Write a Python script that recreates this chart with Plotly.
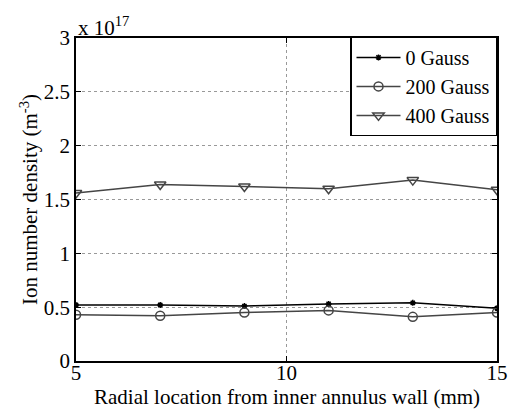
import plotly.graph_objects as go

radial_mm = [5, 7, 9, 11, 13, 15]
density_0g = [0.52, 0.52, 0.51, 0.53, 0.54, 0.49]      # x 1e17 m^-3
density_200g = [0.43, 0.42, 0.45, 0.47, 0.41, 0.45]
density_400g = [1.56, 1.64, 1.62, 1.60, 1.68, 1.59]
y_ticks = [0, 0.5, 1, 1.5, 2, 2.5, 3]
y_tick_text = ["0", "0.5", "1", "1.5", "2", "2.5", "3"]
x_ticks = [5, 10, 15]
x_title = "Radial location from inner annulus wall (mm)"
y_title = "Ion number density (m<sup>-3</sup>)"

FONT = "Liberation Serif"
FS = 21
gray = "#454545"

fig = go.Figure()
fig.add_trace(go.Scatter(x=radial_mm, y=density_0g, name="0 Gauss", mode="lines+markers",
                         line=dict(color="black", width=1.5),
                         marker=dict(symbol="asterisk-open", size=5, color="black",
                                     line=dict(color="black", width=1.5))))
fig.add_trace(go.Scatter(x=radial_mm, y=density_200g, name="200 Gauss", mode="lines+markers",
                         line=dict(color=gray, width=1.5),
                         marker=dict(symbol="circle-open", size=9, color=gray,
                                     line=dict(color=gray, width=1.5))))
fig.add_trace(go.Scatter(x=radial_mm, y=density_400g, name="400 Gauss", mode="lines+markers",
                         line=dict(color=gray, width=1.5),
                         marker=dict(symbol="triangle-down-open", size=10, color=gray,
                                     line=dict(color=gray, width=1.5))))

axis_common = dict(showline=True, linecolor="black", linewidth=1.5, mirror="ticks",
                   ticks="inside", ticklen=5, tickcolor="black", automargin=False,
                   showgrid=True, gridcolor="#999999", griddash="dot", gridwidth=1,
                   zeroline=False, tickfont=dict(family=FONT, size=FS, color="black"))

fig.update_xaxes(range=[5, 15], tickvals=x_ticks, ticklabelposition="inside",
                 ticklabelstandoff=-27, ticklabeloverflow="allow", **axis_common)
fig.update_yaxes(range=[0, 3], tickvals=y_ticks, ticktext=y_tick_text,
                 title=dict(text=y_title,
                            font=dict(family=FONT, size=FS, color="black"), standoff=0),
                 **axis_common)

fig.add_annotation(text=x_title, xref="paper", yref="paper", x=0.5, y=0,
                   xanchor="center", yanchor="top", showarrow=False, yshift=-22,
                   font=dict(family=FONT, size=FS, color="black"))
fig.add_annotation(text="x 10<sup>17</sup>", xref="paper", yref="paper", x=0, y=1,
                   xanchor="left", yanchor="bottom", showarrow=False, yshift=-4,
                   font=dict(family=FONT, size=FS, color="black"))

fig.update_layout(width=509, height=410, margin=dict(l=76, r=12, t=38, b=49),
                  plot_bgcolor="white", paper_bgcolor="white",
                  font=dict(family=FONT, size=FS, color="black"),
                  legend=dict(x=1, y=1.005, xanchor="right", yanchor="top",
                              bgcolor="white", bordercolor="black", borderwidth=1.5,
                              font=dict(family=FONT, size=20, color="black"),
                              itemwidth=44, tracegroupgap=0))

fig.write_html("out.html", config={"displayModeBar": False},
               post_script="document.body.style.margin='0';")
